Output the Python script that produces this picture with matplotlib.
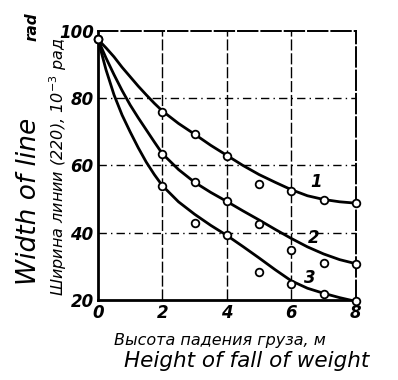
import matplotlib.pyplot as plt
import numpy as np

# ── Data ────────────────────────────────────────────────────────────────────
# measured points
x_pts = [0, 2, 3, 4, 5, 6, 7, 8]
pts_1 = [97.5, 76.0, 69.5, 62.8, 54.6, 52.5, 49.6, 48.8]
pts_2 = [97.5, 63.3, 55.0, 49.3, 42.7, 35.0, 31.0, 30.8]
pts_3 = [97.5, 54.0, 43.0, 39.2, 28.4, 24.8, 21.8, 19.6]

# smooth curves drawn through the points
x_curve = [0, 0.25, 0.5, 0.75, 1, 1.25, 1.5, 1.75, 2, 2.5, 3, 3.5, 4,
           4.5, 5, 5.5, 6, 6.5, 7, 7.5, 8]
curve_1 = [97.5, 95.0, 92.3, 89.2, 86.4, 83.6, 81.0, 78.5, 76.2, 72.5, 69.3,
           66.0, 63.0, 60.0, 57.3, 55.0, 52.8, 51.0, 49.9, 49.2, 48.8]
curve_2 = [97.5, 92.0, 87.0, 82.3, 78.0, 74.2, 70.6, 67.0, 63.5, 58.8, 55.0,
           52.0, 49.3, 46.5, 43.8, 41.0, 38.3, 35.8, 33.7, 32.0, 30.8]
curve_3 = [97.5, 88.5, 81.0, 75.0, 70.0, 65.3, 61.0, 57.3, 54.0, 49.2, 45.5,
           42.2, 39.2, 35.9, 32.5, 29.0, 25.7, 23.5, 22.0, 20.7, 19.6]

x_ticks = [0, 2, 4, 6, 8]
y_ticks = [20, 40, 60, 80, 100]
curve_labels = ["1", "2", "3"]
label_pos = [(6.77, 55.0), (6.68, 38.5), (6.58, 26.5)]

# ── Figure ──────────────────────────────────────────────────────────────────
fig = plt.figure(figsize=(3.98, 3.80), dpi=100)
ax = fig.add_axes([0.246, 0.2105, 0.648, 0.708])
ax.set_xlim(0, 8)
ax.set_ylim(20, 100)

for yc in [curve_1, curve_2, curve_3]:
    ax.plot(x_curve, yc, color="black", lw=2.0, zorder=3,
            solid_joinstyle="round", solid_capstyle="round")
for yp in [pts_1, pts_2, pts_3]:
    ax.plot(x_pts, yp, "o", ms=5.5, mfc="white", mec="black", mew=1.3,
            zorder=4, clip_on=False)

# grid: broken lines like the print
for xv in x_ticks[1:-1]:
    ax.axvline(xv, color="black", lw=1.0, ls=(0, (8, 2)), zorder=1)
for yv in y_ticks[1:-1]:
    ax.axhline(yv, color="black", lw=1.0, ls=(0, (6, 3, 1, 3)), zorder=1)

for s in ["left", "bottom"]:
    ax.spines[s].set_linewidth(2.0)
for s in ["top", "right"]:
    ax.spines[s].set_linewidth(1.4)
    ax.spines[s].set_linestyle((0, (10, 2)))

ax.set_xticks(x_ticks)
ax.set_yticks(y_ticks)
ax.tick_params(length=0, pad=3)
for t in ax.get_xticklabels() + ax.get_yticklabels():
    t.set_fontstyle("italic")
    t.set_fontweight("bold")
    t.set_fontsize(12)

for txt, (lx, ly) in zip(curve_labels, label_pos):
    ax.text(lx, ly, txt, fontsize=12, fontstyle="italic", fontweight="bold",
            ha="center", va="center", zorder=5)

# ── Axis captions ───────────────────────────────────────────────────────────
fig.text(0.145, 0.56, "Ширина линии (220), 10$^{-3}$ рад", rotation=90,
         fontsize=11.5, fontstyle="italic", ha="center", va="center")
fig.text(0.072, 0.47, "Width of line", rotation=90, fontsize=19,
         fontstyle="italic", ha="center", va="center")
fig.text(0.08, 0.93, "rad", rotation=90, fontsize=11,
         fontstyle="italic", fontweight="bold", ha="center", va="center")
fig.text(0.553, 0.105, "Высота падения груза, м", fontsize=11.5,
         fontstyle="italic", ha="center", va="center")
fig.text(0.62, 0.05, "Height of fall of weight", fontsize=15.5,
         fontstyle="italic", ha="center", va="center")

fig.savefig("out.png", dpi=100, facecolor="white")
